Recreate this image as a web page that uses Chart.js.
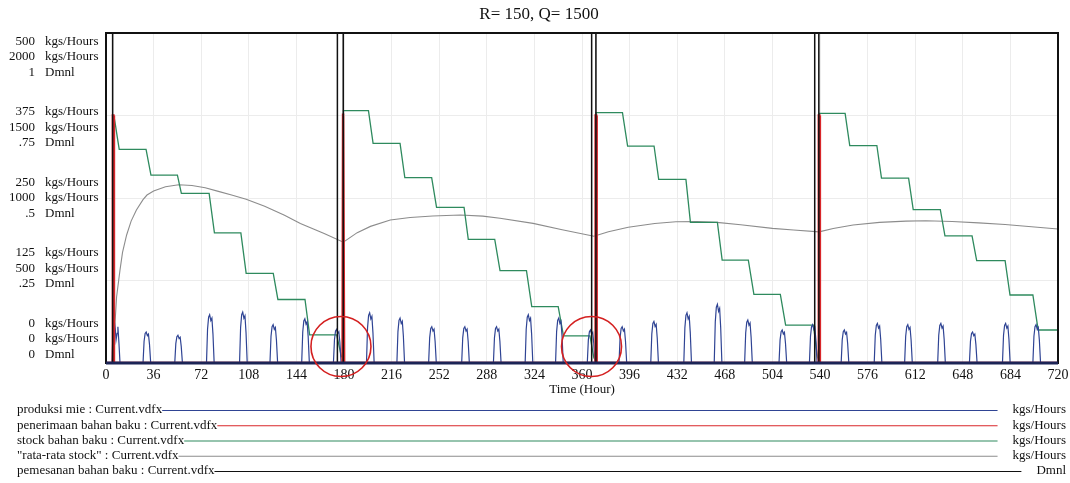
<!DOCTYPE html>
<html>
<head>
<meta charset="utf-8">
<script src="https://cdn.jsdelivr.net/npm/chart.js@4.4.1/dist/chart.umd.min.js"></script>
<style>
  body { margin: 0; background: #fff; }
  canvas { display: block; }
</style>
</head>
<body>
<canvas id="myChart" width="1070" height="483"></canvas>
<script>
const chartTitle = 'R= 150, Q= 1500';

// produksi mie: first double pulse read point by point, then daily pulses (time, peak)
const prodStartT = [4.5, 5.3, 6, 7, 7.6, 8.4, 9, 9.8, 10.6];
const prodStartV = [0, 50, 68, 52, 35, 45, 55, 30, 0];
const prodT = [31,55,79,104,127,151,175,200,223,247,272,296,320,343,367,391,415,440,463,486,512,535,559,584,607,632,656,681,704];
const prodV = [47,42,73,77,58,67,51,76,68,55,55,55,73,68,50,55,63,76,89,65,50,58,50,60,58,60,47,60,58];
const pulseDt = [-3.0, -2.2, -1.4, -0.6, 0.3, 1.1, 1.9, 2.8];
const pulseK = [0, 0.7, 0.95, 1, 0.88, 0.93, 0.6, 0];

// penerimaan bahan baku (receipts)
const recvT = [5.4, 179.5, 370.5, 539.3];
const recvV = [375, 378, 375, 375];

// stock bahan baku
const stockT = [0,5.3,6,7,8.5,10,30.3,34,54,57,78,82,102,106,126.5,130,150.5,154,174.5,178,179.4,179.6,198.5,202,222.4,226,246.3,250,270.8,274,294,298,318,322,342,346,366,369,370.4,370.6,390.6,394.5,414.5,418,438.6,442,462.4,466,485.8,490,510,514,535,538,539.2,539.5,559,562.5,583,586.5,607,610.5,631,634.5,655,658.5,680,683.7,701,705,720];
const stockV = [0,0,1497,1450,1370,1295,1295,1139,1139,1028,1028,789,789,543,543,385,385,170,170,40,29,1529,1529,1331,1331,1123,1123,943,943,749,749,560,560,342,342,164,164,30,17,1517,1517,1315,1315,1113,1113,852,852,624,624,416,416,230,230,40,13,1513,1513,1318,1318,1120,1120,930,930,770,770,620,620,412,412,200,200];

// "rata-rata stock"
const avgT = [0,5.4,6.5,8,10.6,12.5,15.6,19,23,28,31,36,45,55,65,75,85,95,106,120,135,147,165,179.5,190,200,215,230,247,268,285,298,323,345,369,380,395,415,431,447,462,480,504,520,539.3,550,565,585,605,620,640,660,680,700,720];
const avgV = [0,0,200,400,564,670,776,860,927,990,1018,1042,1068,1080,1076,1062,1040,1018,992,950,895,845,785,732,790,828,867,882,891,897,890,877,846,808,768,795,823,845,856,858,852,838,816,806,795,815,836,852,860,862,858,849,839,826,812];

// pemesanan bahan baku (order on / off times)
const orderOn = [0, 175, 367.3, 536];
const orderOff = [5, 179.4, 370.5, 539.1];

// axis labels
const flowTicks = ['0', '125', '250', '375', '500'];
const stockTicks = ['0', '500', '1000', '1500', '2000'];
const dmnlTicks = ['0', '.25', '.5', '.75', '1'];
const axisUnits = ['kgs/Hours', 'kgs/Hours', 'Dmnl'];

const legendNames = ['produksi mie : Current.vdfx', 'penerimaan bahan baku : Current.vdfx', 'stock bahan baku : Current.vdfx', '"rata-rata stock" : Current.vdfx', 'pemesanan bahan baku : Current.vdfx'];
const legendUnits = ['kgs/Hours', 'kgs/Hours', 'kgs/Hours', 'kgs/Hours', 'Dmnl'];

// red circles drawn on the original (time)
const circleT = [177.7, 367.2];

const colors = ['#2f4494', '#d9262a', '#2e8a5e', '#8c8c8c', '#111111'];

// build point lists
const prodPts = [{x: 0, y: 0}];
prodStartT.forEach((t, i) => prodPts.push({x: t, y: prodStartV[i]}));
prodT.forEach((t, i) => {
  pulseDt.forEach((d, j) => prodPts.push({x: t + d, y: prodV[i] * pulseK[j]}));
});
prodPts.push({x: 720, y: 0});

const recvPts = [{x: 0, y: 0}];
recvT.forEach((t, i) => {
  recvPts.push({x: t - 0.6, y: 0}, {x: t - 0.2, y: recvV[i]}, {x: t + 0.2, y: recvV[i]}, {x: t + 0.6, y: 0});
});
recvPts.push({x: 720, y: 0});

const stockPts = stockT.map((t, i) => ({x: t, y: stockV[i]}));
const avgPts = avgT.map((t, i) => ({x: t, y: avgV[i]}));

const orderPts = [];
orderOn.forEach((t, i) => {
  if (t > 0) orderPts.push({x: t - 0.05, y: 0});
  orderPts.push({x: t, y: 1}, {x: orderOff[i], y: 1}, {x: orderOff[i] + 0.05, y: 0});
});
orderPts.push({x: 720, y: 0});

Chart.defaults.font.family = "'Liberation Serif', 'Times New Roman', serif";
Chart.defaults.color = '#111';

const sideLabels = {
  id: 'sideLabels',
  afterDraw(chart) {
    const c = chart.ctx;
    const ys = chart.scales.yStock;
    c.save();
    // title
    c.font = "17px 'Liberation Serif', serif";
    c.fillStyle = '#111';
    c.textAlign = 'center';
    c.textBaseline = 'middle';
    c.fillText(chartTitle, 539, 15);

    c.font = "13px 'Liberation Serif', serif";
    for (let i = 0; i < stockTicks.length; i++) {
      const v = Number(stockTicks[i]);
      const py = ys.getPixelForValue(v);
      const f = 1 - v / 2000;
      const mid = py + 24 * (1 - 2 * f);
      const nums = [flowTicks[i], stockTicks[i], dmnlTicks[i]];
      for (let k = 0; k < 3; k++) {
        const ly = mid + (k - 1) * 15.5;
        c.textAlign = 'right';
        c.fillText(nums[k], 35, ly);
        c.textAlign = 'left';
        c.fillText(axisUnits[k], 45, ly);
      }
    }
    // legend rows
    for (let i = 0; i < legendNames.length; i++) {
      const ly = 410 + i * 15.25;
      c.textAlign = 'left';
      c.fillStyle = '#111';
      c.fillText(legendNames[i], 17, ly);
      const w = c.measureText(legendNames[i]).width;
      const uw = c.measureText(legendUnits[i]).width;
      c.textAlign = 'right';
      c.fillText(legendUnits[i], 1066, ly);
      c.strokeStyle = colors[i];
      c.lineWidth = 1.2;
      c.beginPath();
      c.moveTo(17 + w, ly + 0.5);
      c.lineTo(1066 - uw - 15, ly + 0.5);
      c.stroke();
    }
    // red circles
    const xs = chart.scales.x;
    c.strokeStyle = '#d42020';
    c.lineWidth = 1.6;
    circleT.forEach(t => {
      c.beginPath();
      c.arc(xs.getPixelForValue(t), ys.getPixelForValue(100), 30, 0, Math.PI * 2);
      c.stroke();
    });
    c.restore();
  }
};

const frame = {
  id: 'frame',
  afterDatasetsDraw(chart) {
    const a = chart.chartArea;
    const c = chart.ctx;
    c.save();
    c.strokeStyle = '#111';
    c.lineWidth = 2;
    c.strokeRect(a.left, a.top, a.right - a.left, a.bottom - a.top);
    c.strokeStyle = '#1c2456';
    c.lineWidth = 3;
    c.beginPath();
    c.moveTo(a.left, a.bottom);
    c.lineTo(a.right, a.bottom);
    c.stroke();
    c.restore();
  }
};

const ctx = document.getElementById('myChart');
new Chart(ctx, {
  type: 'line',
  data: {
    datasets: [
      { label: 'produksi mie', data: prodPts, borderColor: colors[0], borderWidth: 1.2, yAxisID: 'yFlow', order: 2 },
      { label: 'penerimaan bahan baku', data: recvPts, borderColor: colors[1], borderWidth: 2.5, yAxisID: 'yFlow', order: 1 },
      { label: 'stock bahan baku', data: stockPts, borderColor: colors[2], borderWidth: 1.3, yAxisID: 'yStock', order: 3 },
      { label: 'rata-rata stock', data: avgPts, borderColor: colors[3], borderWidth: 1.1, yAxisID: 'yStock', order: 4 },
      { label: 'pemesanan bahan baku', data: orderPts, borderColor: colors[4], borderWidth: 1.5, yAxisID: 'yDmnl', order: 0 }
    ]
  },
  options: {
    responsive: false,
    animation: false,
    layout: { padding: { left: 0, right: 12, top: 33, bottom: 86 } },
    elements: { point: { radius: 0 }, line: { tension: 0, fill: false } },
    plugins: {
      legend: { display: false },
      tooltip: { enabled: false },
      title: { display: false }
    },
    scales: {
      x: {
        type: 'linear',
        min: 0,
        max: 720,
        ticks: { stepSize: 36, maxTicksLimit: 21, autoSkip: false, maxRotation: 0, padding: 4, color: '#111', font: { size: 14 } },
        grid: { color: '#ececec', drawTicks: false },
        border: { display: false },
        title: { display: true, text: 'Time (Hour)', color: '#111', font: { size: 13 }, padding: { top: 0, bottom: 0 } },
        afterFit: s => { s.height = 34; s.paddingLeft = 0; s.paddingRight = 0; }
      },
      yStock: {
        position: 'left',
        min: 0,
        max: 2000,
        ticks: { display: false, stepSize: 500 },
        grid: { color: '#ececec', drawTicks: false },
        border: { display: false },
        afterFit: s => { s.width = 106; }
      },
      yFlow: { display: false, min: 0, max: 500 },
      yDmnl: { display: false, min: 0, max: 1 }
    }
  },
  plugins: [frame, sideLabels]
});
</script>
</body>
</html>
